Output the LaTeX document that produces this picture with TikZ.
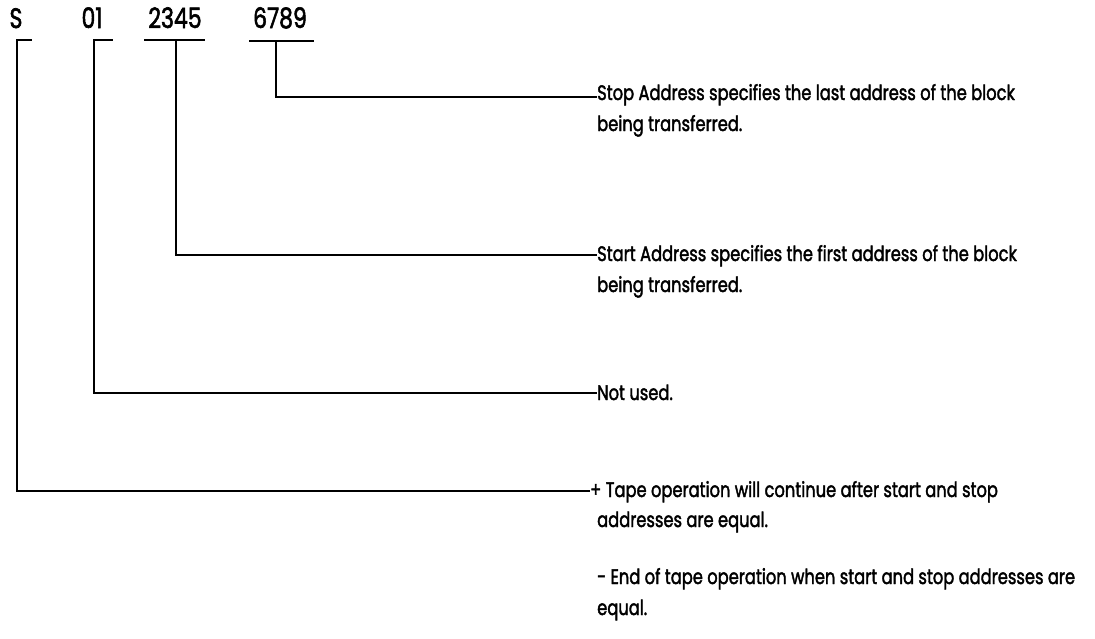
\documentclass[tikz,border=0pt]{standalone}
\usepackage{fontspec}
\setmainfont{Poppins}[FakeBold=2.2]
\newcommand{\tall}[1]{\scalebox{1}[1.28]{#1}}
\begin{document}
\begin{tikzpicture}[x=1pt,y=-1pt,
  conn/.style={line width=2.6pt,line cap=rect},
  field/.style={inner sep=0pt,anchor=base,font=\fontsize{22}{26}\selectfont},
  desc/.style={inner sep=0pt,anchor=base west,font=\fontsize{16.3}{30}\selectfont}]
\useasboundingbox (0,0) rectangle (1095,638);
% header fields
\node[field] (s) at (16,28) {\tall{S}};
\node[field] (f01) at (92,28) {\tall{01}};
\node[field] (f2345) at (175,28) {\tall{2345}};
\node[field] (f6789) at (280,28) {\tall{6789}};
% descriptions
\node[desc] (dstop) at (597,100) {\tall{Stop Address specifies the last address of the block}};
\node[desc] (dstop2) at (597,131) {\tall{being transferred.}};
\node[desc] (dstart) at (597,261) {\tall{Start Address specifies the first address of the block}};
\node[desc] (dstart2) at (597,292) {\tall{being transferred.}};
\node[desc] (dnot) at (597,400) {\tall{Not used.}};
\node[desc] (dtape) at (590,497) {\tall{+ Tape operation will continue after start and stop}};
\node[desc] (dtape2) at (597,527) {\tall{addresses are equal.}};
\node[desc] (dend) at (597,584) {\tall{- End of tape operation when start and stop addresses are}};
\node[desc] (dend2) at (597,615) {\tall{equal.}};
% connector coordinates
\coordinate (sh) at (31,40);
\coordinate (sv) at (17,40);
\coordinate (oh) at (112,40);
\coordinate (ov) at (94,40);
\coordinate (tl) at (145,40);
\coordinate (tr) at (204,40);
\coordinate (tv) at (176,40);
\coordinate (ul) at (250,41);
\coordinate (ur) at (313,41);
\coordinate (uv) at (276,41);
% connectors
\draw[conn] (ul) -- (ur);
\draw[conn] (uv) |- ([xshift=-1pt]dstop.west |- 0,97);
\draw[conn] (tl) -- (tr);
\draw[conn] (tv) |- ([xshift=-1pt]dstart.west |- 0,255);
\draw[conn] (oh) -- (ov) |- ([xshift=-1pt]dnot.west |- 0,393);
\draw[conn] (sh) -- (sv) |- ([xshift=-1pt]dtape.west |- 0,491);
\end{tikzpicture}
\end{document}
